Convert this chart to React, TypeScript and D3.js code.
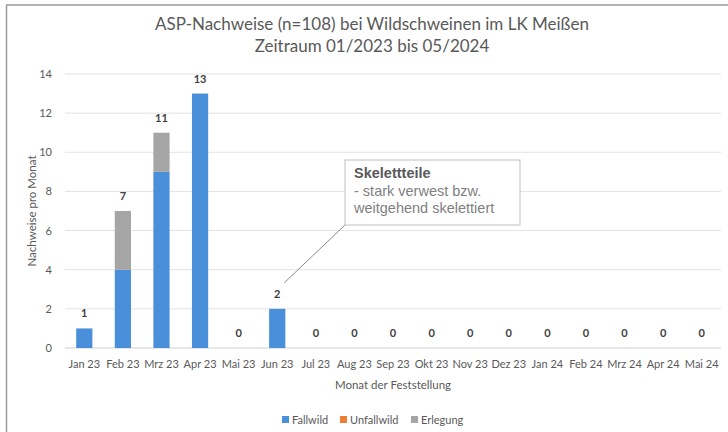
import React from "react";
import * as d3 from "d3";

const months = ["Jan 23","Feb 23","Mrz 23","Apr 23","Mai 23","Jun 23","Jul 23","Aug 23","Sep 23","Okt 23","Nov 23","Dez 23","Jan 24","Feb 24","Mrz 24","Apr 24","Mai 24"];
const fallwild = [1,4,9,13,0,2,0,0,0,0,0,0,0,0,0,0,0];
const unfallwild = [0,0,0,0,0,0,0,0,0,0,0,0,0,0,0,0,0];
const erlegung = [0,3,2,0,0,0,0,0,0,0,0,0,0,0,0,0,0];
const yTicks = [0,2,4,6,8,10,12,14];
const seriesNames = ["Fallwild","Unfallwild","Erlegung"];
const seriesColors = ["#4a8fda","#ed7d31","#a5a5a5"];
const titleLines = ["ASP-Nachweise (n=108) bei Wildschweinen im LK Meißen","Zeitraum 01/2023 bis 05/2024"];
const annotation = { month: "Jun 23", title: "Skelettteile", lines: ["- stark verwest bzw.", "weitgehend skelettiert"] };

const W = 728, H = 432;
const font = "Lato, 'Open Sans', sans-serif";
const annoFont = "'Liberation Sans', Arial, sans-serif";

export default function App() {
  const x = d3.scaleBand<string>().domain(months).range([65, 721]).paddingInner(0.58).paddingOuter(0.29);
  const y = d3.scaleLinear().domain([0, 14]).range([348, 74]);
  const table = months.map((m, i) => ({ month: m, Fallwild: fallwild[i], Unfallwild: unfallwild[i], Erlegung: erlegung[i] }));
  const stack = d3.stack<any>().keys(seriesNames)(table);
  const totals = months.map((_, i) => fallwild[i] + unfallwild[i] + erlegung[i]);
  const ax = (x(annotation.month) ?? 0) + x.bandwidth() / 2;
  const ai = months.indexOf(annotation.month);
  const lineEndY = y(totals[ai]) - 26;
  const legendX = [282, 340, 411];

  return (
    <svg width={W} height={H} style={{ position: "absolute", left: 0, top: 0, background: "#fff" }} fontFamily={font}>
      <rect x={0} y={0} width={W} height={H} fill="#fff" />
      <line x1={6} y1={5} x2={W} y2={5} stroke="#9a9a9a" strokeWidth={1.5} />
      <line x1={6.5} y1={5} x2={6.5} y2={H} stroke="#9a9a9a" strokeWidth={1.5} />
      {titleLines.map((t, i) => (
        <text key={i} x={372} y={30 + i * 22} textAnchor="middle" fontSize={17} fill="#595959">{t}</text>
      ))}
      {yTicks.map(t => (
        <g key={t}>
          {t > 0 && <line x1={65} x2={721} y1={y(t)} y2={y(t)} stroke="#e3e3e3" strokeWidth={1} />}
          <text x={52} y={y(t) + 4} textAnchor="end" fontSize={11} fill="#595959">{t}</text>
        </g>
      ))}
      <line x1={65} x2={721} y1={y(0)} y2={y(0)} stroke="#d0d0d0" strokeWidth={1} />
      <text transform={`translate(36,${(y(0) + y(14)) / 2}) rotate(-90)`} textAnchor="middle" fontSize={11.5} fill="#595959">Nachweise pro Monat</text>
      {stack.map((s, si) => (
        <g key={si} fill={seriesColors[si]}>
          {s.map((d, i) => d[1] - d[0] > 0 ? (
            <rect key={i} x={x(months[i])} width={x.bandwidth()} y={y(d[1])} height={y(d[0]) - y(d[1])} />
          ) : null)}
        </g>
      ))}
      {months.map((m, i) => (
        <g key={m}>
          <text x={(x(m) ?? 0) + x.bandwidth() / 2} y={y(totals[i]) - 11} textAnchor="middle" fontSize={11} fontWeight="bold" fill="#404040">{totals[i]}</text>
          <text x={(x(m) ?? 0) + x.bandwidth() / 2} y={368} textAnchor="middle" fontSize={11} fill="#595959">{m}</text>
        </g>
      ))}
      <text x={393} y={389} textAnchor="middle" fontSize={11.5} fill="#595959">Monat der Feststellung</text>
      <line x1={ax + 7} y1={lineEndY} x2={345} y2={225} stroke="#8a8a8a" strokeWidth={1} />
      <rect x={345} y={160} width={175} height={65} fill="#fff" stroke="#bfbfbf" strokeWidth={1} />
      <text x={354} y={178} fontSize={14.5} fontWeight="bold" fill="#595959" fontFamily={annoFont}>{annotation.title}</text>
      {annotation.lines.map((l, i) => (
        <text key={i} x={354} y={196 + i * 17} fontSize={14.5} fill="#7f7f7f" fontFamily={annoFont}>{l}</text>
      ))}
      {seriesNames.map((n, i) => (
        <g key={n}>
          <rect x={legendX[i]} y={416} width={7} height={7} fill={seriesColors[i]} />
          <text x={legendX[i] + 10} y={423.5} fontSize={11} fill="#595959">{n}</text>
        </g>
      ))}
    </svg>
  );
}
